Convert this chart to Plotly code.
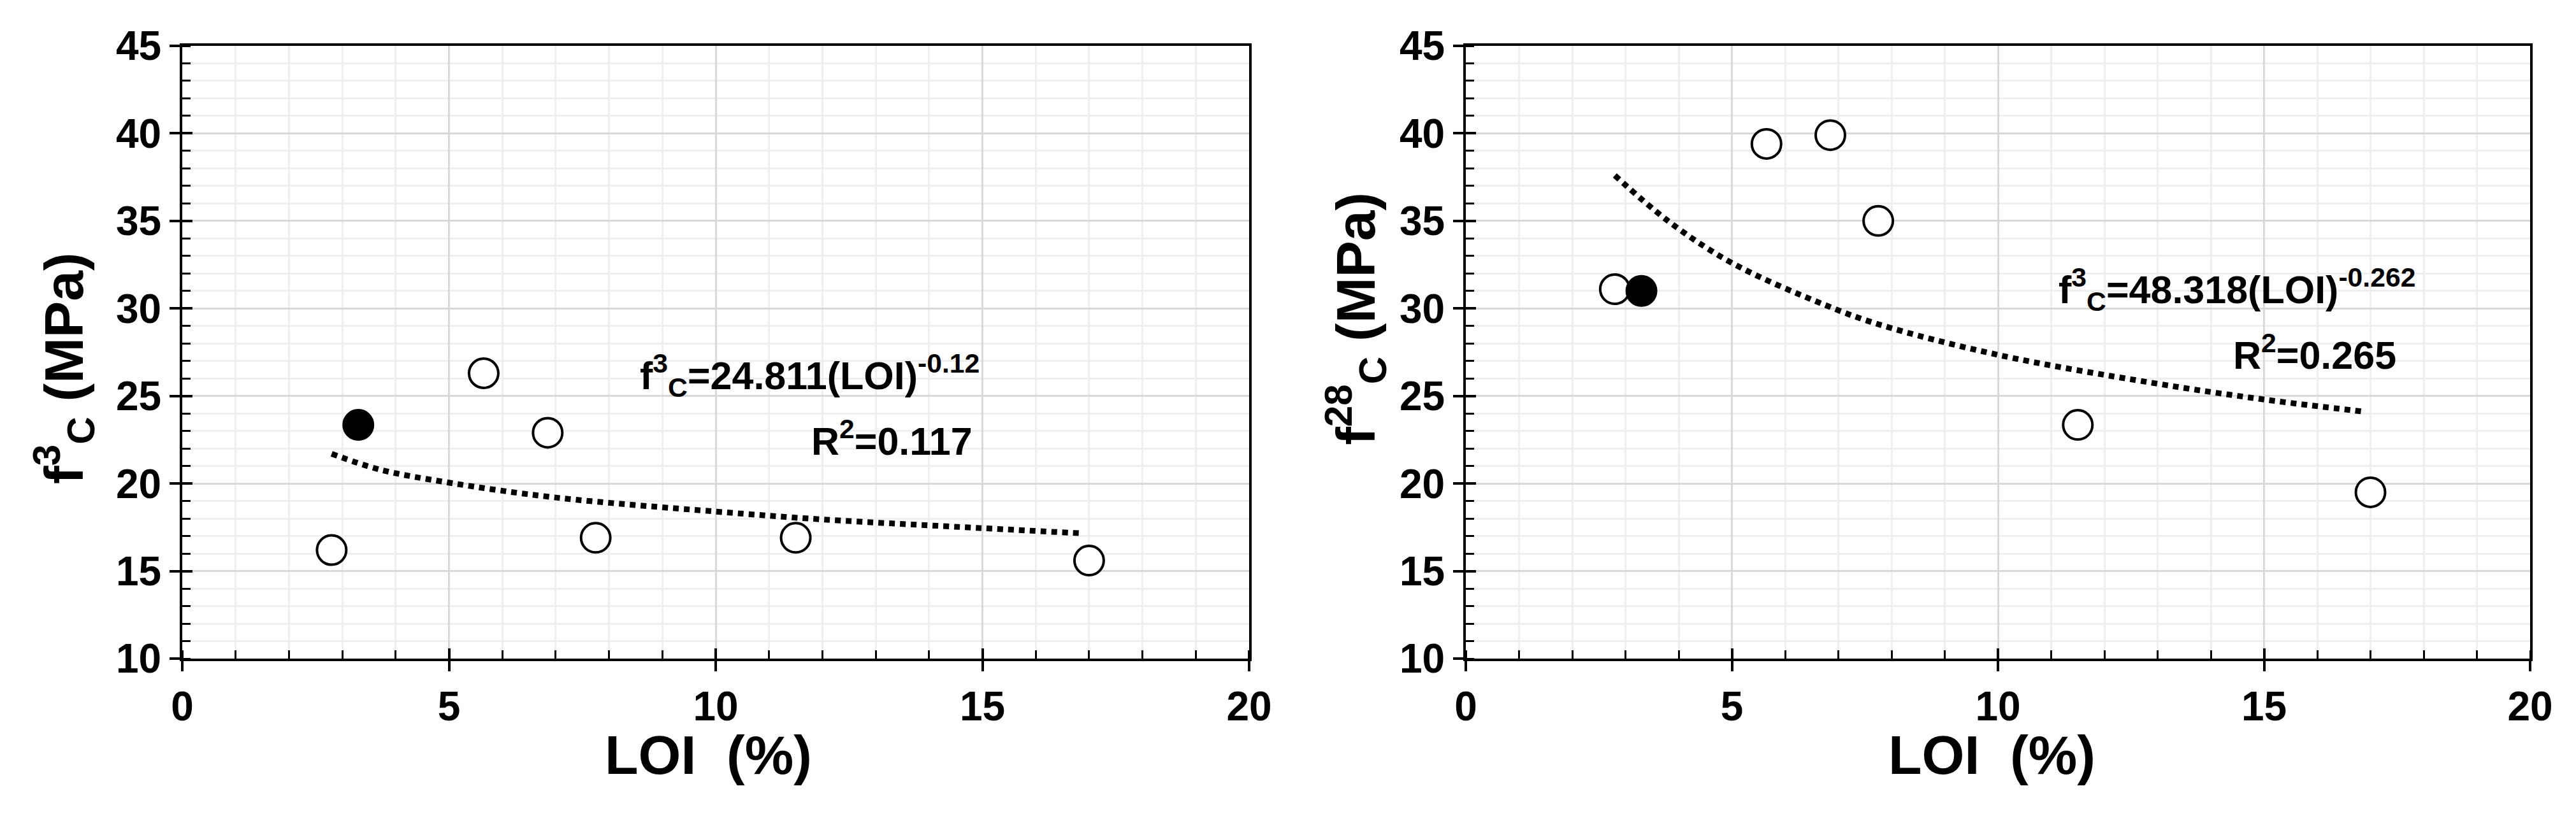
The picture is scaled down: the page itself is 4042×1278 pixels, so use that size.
import plotly.graph_objects as go

# ---------------- data ----------------
loi_open = [2.8, 5.65, 6.85, 7.75, 11.5, 17.0]
loi_filled = [3.3]

f3_open = [16.2, 26.3, 22.9, 16.9, 16.9, 15.6]
f3_filled = [23.35]

f28_open = [31.1, 39.4, 39.9, 35.0, 23.35, 19.5]
f28_filled = [31.0]

# power-law trend lines
fit3_x = [2.8, 3.7, 5.0, 7.0, 10.0, 12.0, 15.0, 16.9]
fit3_y = [21.7, 20.8, 20.05, 19.2, 18.4, 17.95, 17.45, 17.15]

fit28_x = [2.8, 3.8, 5.0, 6.75, 7.75, 10.0, 12.9, 15.0, 16.9]
fit28_y = [37.6, 35.0, 32.6, 30.2, 29.1, 27.35, 25.75, 24.8, 24.1]

x_ticks = [0, 5, 10, 15, 20]
y_ticks = [10, 15, 20, 25, 30, 35, 40, 45]

eq3_text = "f<sup>3</sup><sub>C</sub>=24.811(LOI)<sup>-0.12</sup>"
r3_text = "R<sup>2</sup>=0.117"
eq28_text = "f<sup>3</sup><sub>C</sub>=48.318(LOI)<sup>-0.262</sup>"
r28_text = "R<sup>2</sup>=0.265"

ytitle3 = "f<sup>3</sup><sub>C</sub> (MPa)"
ytitle28 = "f<sup>28</sup><sub>C</sub> (MPa)"
xtitle = "LOI  (%)"

# ---------------- figure ----------------
W, H = 4042, 1278
FONT = "Liberation Sans, Arial, sans-serif"

fig = go.Figure()

def add_panel(xa, ya, fo, ffil, fx_fit, fy_fit):
    fig.add_trace(go.Scatter(
        x=fx_fit, y=fy_fit, mode="lines", line_shape="spline",
        line=dict(color="black", width=9, dash="9px,8px"),
        xaxis=xa, yaxis=ya, showlegend=False, hoverinfo="skip"))
    fig.add_trace(go.Scatter(
        x=loi_open, y=fo, mode="markers",
        marker=dict(symbol="circle", size=46, color="white",
                    line=dict(color="black", width=4)),
        xaxis=xa, yaxis=ya, showlegend=False))
    fig.add_trace(go.Scatter(
        x=loi_filled, y=ffil, mode="markers",
        marker=dict(symbol="circle", size=48, color="black",
                    line=dict(color="black", width=2)),
        xaxis=xa, yaxis=ya, showlegend=False))

add_panel("x", "y", f3_open, f3_filled, fit3_x, fit3_y)
add_panel("x2", "y2", f28_open, f28_filled, fit28_x, fit28_y)

# dummy traces so the overlay (tick-only) axes are rendered
for xa, ya in (("x3", "y3"), ("x4", "y4")):
    fig.add_trace(go.Scatter(x=[None], y=[None], xaxis=xa, yaxis=ya,
                             showlegend=False, hoverinfo="skip"))

tickfont = dict(family=FONT, size=64, color="black", weight="bold")

def xaxis(domain, anchor):
    return dict(
        domain=domain, anchor=anchor, range=[0, 20],
        tickvals=x_ticks, ticks="outside", ticklen=16, tickwidth=4,
        tickcolor="black", tickfont=tickfont,
        showline=True, linewidth=4, linecolor="black", mirror=True,
        showgrid=True, gridcolor="#d9d9d9", gridwidth=3,
        minor=dict(dtick=1, ticks="inside", ticklen=13, tickwidth=3,
                   tickcolor="black", showgrid=True,
                   gridcolor="#efefef", gridwidth=3),
        zeroline=False, automargin=False, fixedrange=True)

def yaxis(anchor):
    return dict(
        domain=[0.19718, 0.94992], anchor=anchor, range=[10, 45],
        tickvals=y_ticks, ticks="outside", ticklen=16, tickwidth=4,
        tickcolor="black", tickfont=tickfont,
        showline=True, linewidth=4, linecolor="black", mirror=True,
        showgrid=True, gridcolor="#d9d9d9", gridwidth=3,
        minor=dict(dtick=1, ticks="inside", ticklen=13, tickwidth=3,
                   tickcolor="black", showgrid=True,
                   gridcolor="#efefef", gridwidth=3),
        zeroline=False, automargin=False, fixedrange=True)

def x_over(domain, anchor, over):
    return dict(domain=domain, anchor=anchor, overlaying=over, range=[0, 20],
                tickvals=x_ticks, ticks="inside", ticklen=16, tickwidth=4,
                tickcolor="black", showticklabels=False, showline=False,
                showgrid=False, zeroline=False, automargin=False)

def y_over(anchor, over):
    return dict(domain=[0.19718, 0.94992], anchor=anchor, overlaying=over,
                range=[10, 45], tickvals=y_ticks, ticks="inside", ticklen=16,
                tickwidth=4, tickcolor="black", showticklabels=False,
                showline=False, showgrid=False, zeroline=False,
                automargin=False)

dl = [0.06878, 0.48293]
dr = [0.56705, 0.98021]

fig.update_layout(
    width=W, height=H,
    margin=dict(l=0, r=0, t=0, b=0),
    paper_bgcolor="white", plot_bgcolor="white",
    xaxis=xaxis(dl, "y"), yaxis=yaxis("x"),
    xaxis2=xaxis(dr, "y2"), yaxis2=yaxis("x2"),
    xaxis3=x_over(dl, "y3", "x"), yaxis3=y_over("x3", "y"),
    xaxis4=x_over(dr, "y4", "x2"), yaxis4=y_over("x4", "y2"),
    showlegend=False,
)

afont = dict(family=FONT, size=61, color="black", weight="bold")
titlefont = dict(family=FONT, size=86, color="black", weight="bold")

annots = [
    dict(x=11.76, y=26.2, xref="x", yref="y", text=eq3_text, font=afont),
    dict(x=13.30, y=22.6, xref="x", yref="y", text=r3_text, font=afont),
    dict(x=14.49, y=31.1, xref="x2", yref="y2", text=eq28_text, font=afont),
    dict(x=15.95, y=27.5, xref="x2", yref="y2", text=r28_text, font=afont),
    dict(x=0.2731, y=0.079, xref="paper", yref="paper", text=xtitle, font=titlefont),
    dict(x=0.7712, y=0.079, xref="paper", yref="paper", text=xtitle, font=titlefont),
    dict(x=0.0230, y=0.554, xref="paper", yref="paper", text=ytitle3,
         font=titlefont, textangle=-90),
    dict(x=0.5242, y=0.615, xref="paper", yref="paper", text=ytitle28,
         font=titlefont, textangle=-90),
]
for a in annots:
    a.update(showarrow=False, xanchor="center", yanchor="middle")
fig.update_layout(annotations=annots)

fig.write_html("out.html")
